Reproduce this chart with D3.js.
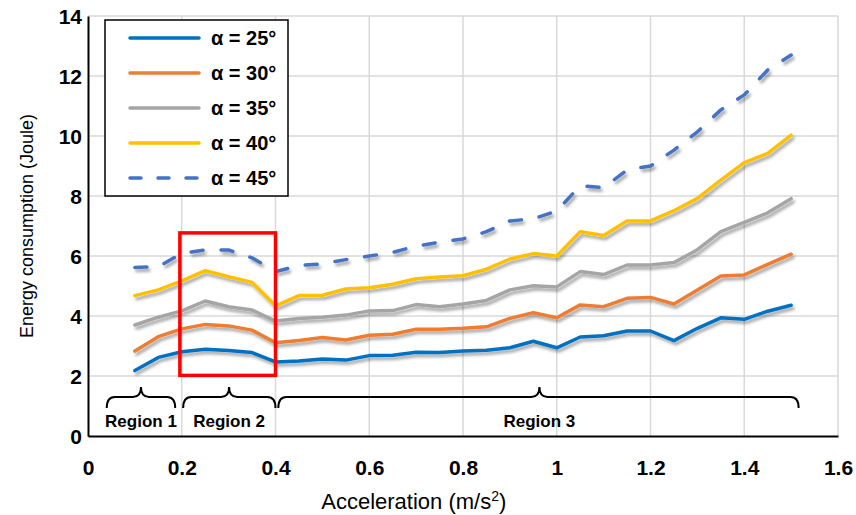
<!DOCTYPE html>
<html>
<head>
<meta charset="utf-8">
<script src="https://cdn.jsdelivr.net/npm/d3@7"></script>
<style>
  body { margin: 0; background: #fff; }
  text { font-family: "Liberation Sans", Arial, sans-serif; }
</style>
</head>
<body>
<div id="chart"></div>
<script>
// chart data
var accel = [0.1, 0.15, 0.2, 0.25, 0.3, 0.35, 0.4, 0.45, 0.5, 0.55, 0.6, 0.65, 0.7, 0.75, 0.8,
  0.85, 0.9, 0.95, 1.0, 1.05, 1.1, 1.15, 1.2, 1.25, 1.3, 1.35, 1.4, 1.45, 1.5];

var alpha25 = [2.18, 2.62, 2.81, 2.89, 2.85, 2.78, 2.47, 2.5, 2.57, 2.53, 2.68, 2.69, 2.79, 2.78, 2.83,
  2.86, 2.94, 3.16, 2.94, 3.3, 3.34, 3.5, 3.5, 3.18, 3.59, 3.94, 3.89, 4.16, 4.36];
var alpha30 = [2.83, 3.31, 3.57, 3.72, 3.67, 3.53, 3.11, 3.18, 3.28, 3.2, 3.36, 3.39, 3.56, 3.56, 3.59,
  3.64, 3.92, 4.11, 3.94, 4.37, 4.31, 4.59, 4.62, 4.4, 4.87, 5.33, 5.37, 5.72, 6.06];
var alpha35 = [3.7, 3.96, 4.17, 4.5, 4.31, 4.2, 3.83, 3.92, 3.96, 4.03, 4.17, 4.18, 4.38, 4.31, 4.4,
  4.52, 4.87, 5.01, 4.97, 5.48, 5.38, 5.7, 5.7, 5.78, 6.21, 6.81, 7.12, 7.44, 7.91];
var alpha40 = [4.68, 4.87, 5.17, 5.51, 5.31, 5.12, 4.34, 4.68, 4.69, 4.9, 4.94, 5.06, 5.24, 5.3, 5.34,
  5.56, 5.9, 6.08, 6.0, 6.81, 6.68, 7.17, 7.17, 7.51, 7.92, 8.53, 9.11, 9.42, 10.03];
var alpha45 = [5.62, 5.64, 6.09, 6.2, 6.2, 5.94, 5.48, 5.68, 5.74, 5.88, 6.0, 6.12, 6.33, 6.46, 6.57,
  6.81, 7.17, 7.24, 7.5, 8.34, 8.28, 8.87, 9.0, 9.53, 10.14, 10.87, 11.37, 12.2, 12.7];

var seriesNames = ["\u03b1 = 25\u00b0", "\u03b1 = 30\u00b0", "\u03b1 = 35\u00b0", "\u03b1 = 40\u00b0", "\u03b1 = 45\u00b0"];
var seriesValues = [alpha25, alpha30, alpha35, alpha40, alpha45];
var seriesColors = ["#0070C0", "#ED7D31", "#A5A5A5", "#FFC000", "#4472C4"];
var seriesDashed = [false, false, false, false, true];

var xTicks = [0, 0.2, 0.4, 0.6, 0.8, 1, 1.2, 1.4, 1.6];
var yTicks = [0, 2, 4, 6, 8, 10, 12, 14];

// region braces: start, end, tip (acceleration)
var regionNames = ["Region 1", "Region 2", "Region 3"];
var regionStart = [0.04, 0.203, 0.406];
var regionEnd = [0.186, 0.4, 1.516];
var regionTip = [0.113, 0.301, 0.963];

// highlighted box around region 2
var boxX = [0.196, 0.4];
var boxY = [2.02, 6.77];

// SVG area
var svgWidth = 856;
var svgHeight = 515;

var margin = { top: 16, right: 18, bottom: 79, left: 88 };
var chartWidth = svgWidth - margin.left - margin.right;
var chartHeight = svgHeight - margin.top - margin.bottom;

var svg = d3.select("#chart")
  .append("svg")
  .attr("width", svgWidth)
  .attr("height", svgHeight);

// drop shadow like the office chart
var defs = svg.append("defs");
var shadow = defs.append("filter")
  .attr("id", "shadow")
  .attr("x", "-10%").attr("y", "-10%")
  .attr("width", "120%").attr("height", "130%");
shadow.append("feDropShadow")
  .attr("dx", 2).attr("dy", 3)
  .attr("stdDeviation", 1.8)
  .attr("flood-color", "#000")
  .attr("flood-opacity", 0.35);

var chartGroup = svg.append("g")
  .attr("transform", `translate(${margin.left}, ${margin.top})`);

var xScale = d3.scaleLinear().domain([0, 1.6]).range([0, chartWidth]);
var yScale = d3.scaleLinear().domain([0, 14]).range([chartHeight, 0]);

// gridlines
chartGroup.append("g")
  .selectAll("line")
  .data(yTicks.slice(1))
  .enter()
  .append("line")
  .attr("x1", 0)
  .attr("x2", chartWidth)
  .attr("y1", d => yScale(d))
  .attr("y2", d => yScale(d))
  .attr("stroke", "#d9d9d9")
  .attr("stroke-width", 1.5);

chartGroup.append("g")
  .selectAll("line")
  .data(xTicks.slice(1))
  .enter()
  .append("line")
  .attr("x1", d => xScale(d))
  .attr("x2", d => xScale(d))
  .attr("y1", 0)
  .attr("y2", chartHeight)
  .attr("stroke", "#d9d9d9")
  .attr("stroke-width", 1.5);

// axes
var bottomAxis = d3.axisBottom(xScale).tickValues(xTicks).tickSize(0).tickPadding(24)
  .tickFormat(d => d3.format("")(d));
var leftAxis = d3.axisLeft(yScale).tickValues(yTicks).tickSize(0).tickPadding(6);

var xAxisG = chartGroup.append("g")
  .attr("transform", `translate(0, ${chartHeight})`)
  .call(bottomAxis);
var yAxisG = chartGroup.append("g").call(leftAxis);

[xAxisG, yAxisG].forEach(function(g) {
  g.attr("font-size", null).attr("font-family", null);
  g.select(".domain").attr("stroke", "#000").attr("stroke-width", 2);
  g.selectAll("text")
    .style("font-size", "21px")
    .style("font-weight", "bold")
    .style("font-family", "'Liberation Sans', Arial, sans-serif")
    .attr("fill", "#000");
});
yAxisG.selectAll("text").attr("dy", "0.36em");

// lines
var line = d3.line()
  .x((d, i) => xScale(accel[i]))
  .y(d => yScale(d));

seriesValues.forEach(function(values, k) {
  chartGroup.append("path")
    .datum(values)
    .attr("d", line)
    .attr("fill", "none")
    .attr("stroke", seriesColors[k])
    .attr("stroke-width", 3.5)
    .attr("stroke-linejoin", "round")
    .attr("stroke-linecap", "round")
    .attr("stroke-dasharray", seriesDashed[k] ? "12,18" : null)
    .attr("filter", "url(#shadow)");
});

// red box
chartGroup.append("rect")
  .attr("x", xScale(boxX[0]))
  .attr("y", yScale(boxY[1]))
  .attr("width", xScale(boxX[1]) - xScale(boxX[0]))
  .attr("height", yScale(boxY[0]) - yScale(boxY[1]))
  .attr("fill", "none")
  .attr("stroke", "#FF0000")
  .attr("stroke-width", 3.5);

// braces
var yLine = yScale(1.3), yTipPx = yScale(1.63), yEndPx = yScale(0.93);
function bracePath(a, b, t) {
  var x1 = xScale(a), x2 = xScale(b), xt = xScale(t), r = 8;
  return `M${x1},${yEndPx} Q${x1},${yLine} ${x1 + r},${yLine} L${xt - r},${yLine}` +
    ` Q${xt},${yLine} ${xt},${yTipPx} Q${xt},${yLine} ${xt + r},${yLine}` +
    ` L${x2 - r},${yLine} Q${x2},${yLine} ${x2},${yEndPx}`;
}

chartGroup.selectAll(".brace")
  .data(regionNames)
  .enter()
  .append("path")
  .attr("class", "brace")
  .attr("d", (d, i) => bracePath(regionStart[i], regionEnd[i], regionTip[i]))
  .attr("fill", "none")
  .attr("stroke", "#000")
  .attr("stroke-width", 2);

chartGroup.selectAll(".region-label")
  .data(regionNames)
  .enter()
  .append("text")
  .attr("class", "region-label")
  .attr("x", (d, i) => xScale(regionTip[i]))
  .attr("y", yScale(0.5))
  .attr("dy", "0.36em")
  .attr("text-anchor", "middle")
  .attr("font-size", "17px")
  .attr("font-weight", "bold")
  .text(d => d);

// legend
var legend = chartGroup.append("g")
  .attr("transform", "translate(17, 4)");

legend.append("rect")
  .attr("width", 183)
  .attr("height", 176)
  .attr("fill", "#fff")
  .attr("stroke", "#000")
  .attr("stroke-width", 1.5);

seriesNames.forEach(function(name, k) {
  var y = 18 + k * 35;
  legend.append("line")
    .attr("x1", 25).attr("x2", 94)
    .attr("y1", y).attr("y2", y)
    .attr("stroke", seriesColors[k])
    .attr("stroke-width", 3.5)
    .attr("stroke-linecap", "round")
    .attr("stroke-dasharray", seriesDashed[k] ? "11,17" : null);
  legend.append("text")
    .attr("x", 106)
    .attr("y", y)
    .attr("dy", "0.36em")
    .attr("font-size", "20px")
    .attr("font-weight", "bold")
    .text(name);
});

// axis titles
chartGroup.append("text")
  .attr("transform", "rotate(-90)")
  .attr("x", -chartHeight / 2)
  .attr("y", -margin.left + 27)
  .attr("dy", "0.36em")
  .attr("text-anchor", "middle")
  .attr("font-size", "18px")
  .text("Energy consumption (Joule)");

var xTitle = chartGroup.append("text")
  .attr("x", xScale(0.695))
  .attr("y", chartHeight + 73)
  .attr("text-anchor", "middle")
  .attr("font-size", "22px");
xTitle.append("tspan").text("Acceleration (m/s");
xTitle.append("tspan").attr("font-size", "14px").attr("dy", "-8").text("2");
xTitle.append("tspan").attr("dy", "8").text(")");
</script>
</body>
</html>
